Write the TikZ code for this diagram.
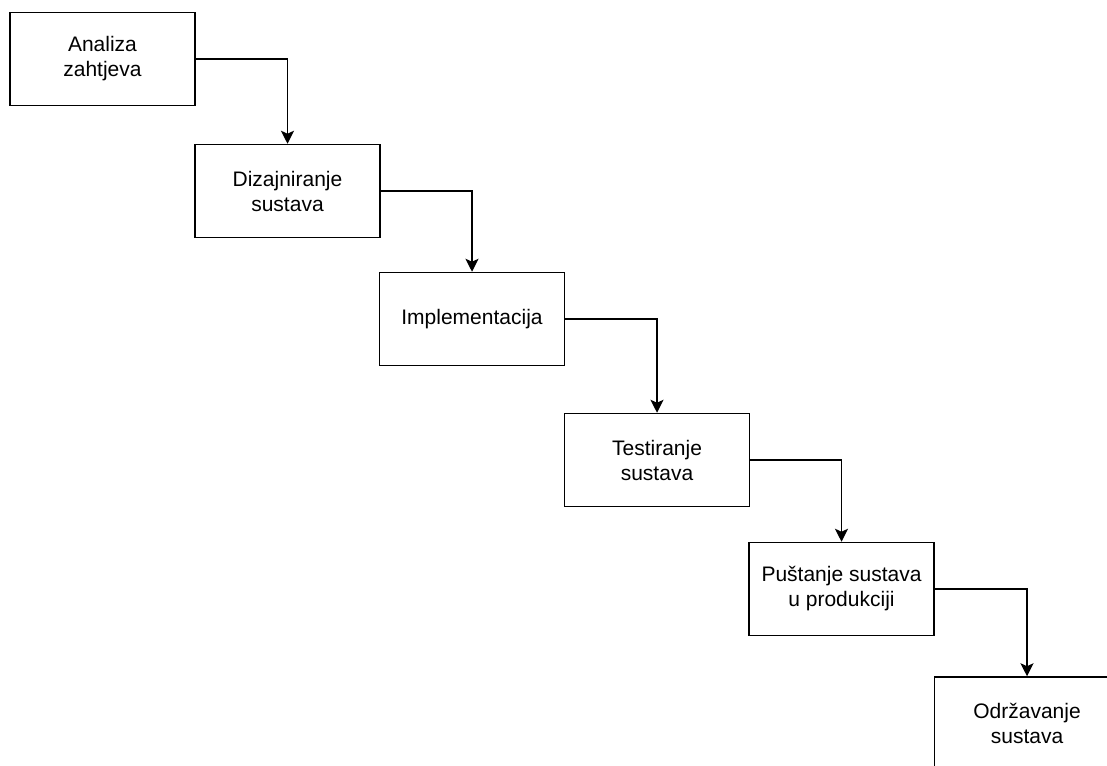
\documentclass[tikz,border=0pt]{standalone}
\usepackage{fontspec}
\setmainfont{Liberation Sans}
\usepackage{tikz}
\usetikzlibrary{arrows.meta}

\begin{document}
\begin{tikzpicture}[x=1pt,y=-1pt,
		faza/.style={draw=black,line width=1.5pt,minimum width=185pt,minimum height=93pt,align=center,inner sep=0pt,font=\fontsize{21}{25}\selectfont},
		veza/.style={line width=1.5pt,-{Stealth[length=13pt,width=13pt,inset=3pt]}}]
		\useasboundingbox (0,0) rectangle (1107,765);
		\clip (0,0) rectangle (1107,765);
		\node[faza] (analiza) at (102.5,59) {Analiza\\zahtjeva};
		\node[faza] (dizajn) at (287.5,191) {Dizajniranje\\sustava};
		\node[faza] (impl) at (472,319) {Implementacija};
		\node[faza] (test) at (657,460) {Testiranje\\sustava};
		\node[faza] (pustanje) at (841.5,589) {Puštanje sustava\\u produkciji};
		\node[faza] (odrzavanje) at (1027,723.5) {Održavanje\\sustava};
		\draw[veza] (analiza.east) -| (dizajn.north);
		\draw[veza] (dizajn.east) -| (impl.north);
		\draw[veza] (impl.east) -| (test.north);
		\draw[veza] (test.east) -| (pustanje.north);
		\draw[veza] (pustanje.east) -| (odrzavanje.north);
	\end{tikzpicture}
\end{document}
